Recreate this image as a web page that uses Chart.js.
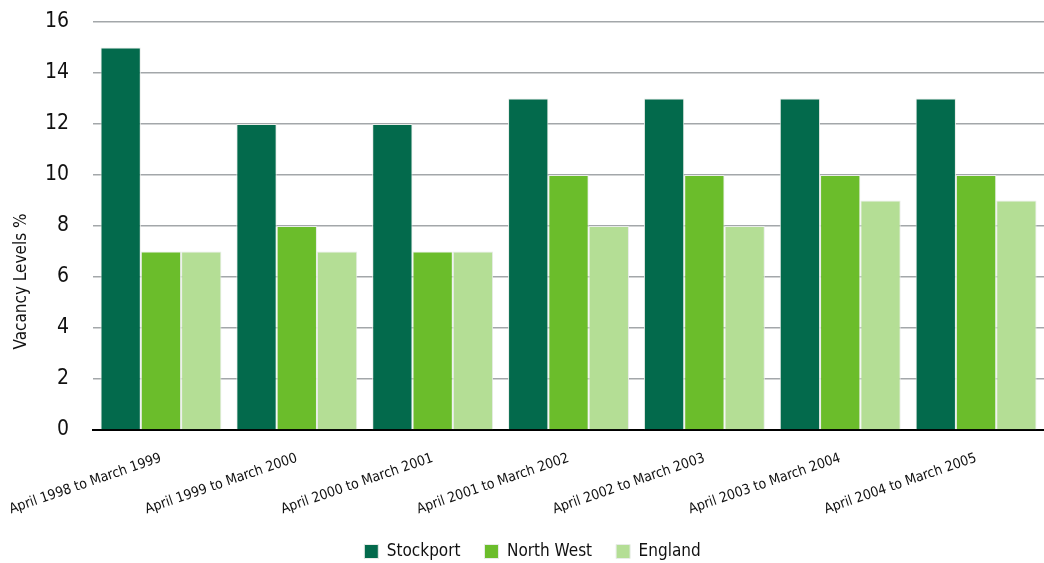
<!DOCTYPE html>
<html>
<head>
<meta charset="utf-8">
<script src="https://cdn.jsdelivr.net/npm/chart.js@4"></script>
<style>
  html, body { margin: 0; padding: 0; background: #fff; }
  #wrap { width: 1044px; height: 563px; }
</style>
</head>
<body>
<div id="wrap"><canvas id="vacancyChart"></canvas></div>
<script>
// Vacancy levels by year
const periods = [
  "April 1998 to March 1999",
  "April 1999 to March 2000",
  "April 2000 to March 2001",
  "April 2001 to March 2002",
  "April 2002 to March 2003",
  "April 2003 to March 2004",
  "April 2004 to March 2005",
];
const stockport = [15, 12, 12, 13, 13, 13, 13];
const northWest = [7, 8, 7, 10, 10, 10, 10];
const england = [7, 7, 7, 8, 8, 9, 9];
const yTitle = "Vacancy Levels %";

const FONT = "'Liberation Sans Narrow', 'DejaVu Sans Condensed', sans-serif";

const mkSet = (label, data, color) => ({
  label,
  data,
  backgroundColor: color,
  borderColor: "#e8ece8",
  borderWidth: 1,
  categoryPercentage: 0.89,
  barPercentage: 1,
});

// y title sits at the middle of the whole canvas, not of the axis
const sideTitle = {
  id: "sideTitle",
  afterDraw(chart) {
    const c = chart.ctx;
    c.save();
    c.translate(22, chart.height / 2);
    c.rotate(-Math.PI / 2);
    c.font = `17px ${FONT}`;
    c.fillStyle = "#111";
    c.textAlign = "center";
    c.textBaseline = "middle";
    c.fillText(yTitle, 0, 0);
    c.restore();
  },
};

const ctx = document.getElementById("vacancyChart").getContext("2d");
new Chart(ctx, {
  type: "bar",
  data: {
    labels: periods,
    datasets: [
      mkSet("Stockport", stockport, "#036a4c"),
      mkSet("North West", northWest, "#6bbd2b"),
      mkSet("England", england, "#b4de95"),
    ],
  },
  plugins: [sideTitle],
  options: {
    responsive: true,
    maintainAspectRatio: false,
    animation: false,
    layout: { padding: { top: 0, right: 0, left: 21, bottom: -7 } },
    plugins: {
      legend: {
        position: "bottom",
        labels: {
          font: { family: FONT, size: 17 },
          color: "#111",
          boxWidth: 14,
          boxHeight: 14,
          padding: 24,
        },
      },
      tooltip: { enabled: false },
    },
    scales: {
      x: {
        grid: { display: false },
        border: { color: "#000", width: 2 },
        ticks: {
          font: { family: FONT, size: 14 },
          color: "#111",
          minRotation: 19,
          maxRotation: 19,
          padding: 12,
        },
        afterFit(scale) {
          // let the first rotated label run into the margin
          scale.paddingLeft = 0;
          scale.paddingRight = 0;
          scale.height = 89;
        },
      },
      y: {
        min: 0,
        max: 16,
        ticks: {
          stepSize: 2,
          font: { family: FONT, size: 21 },
          color: "#111",
          padding: 24,
        },
        grid: { color: "#a3a7aa", lineWidth: 1.5, drawTicks: false },
        border: { display: false },
        afterFit(scale) {
          scale.paddingTop = 22;
          scale.paddingBottom = 0;
        },
      },
    },
  },
});
</script>
</body>
</html>
